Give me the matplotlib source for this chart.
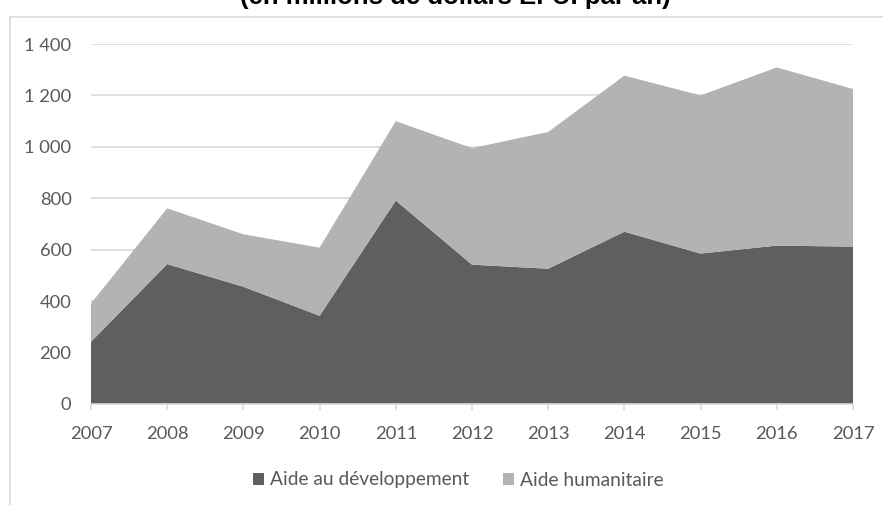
import matplotlib.pyplot as plt
from matplotlib.patches import Rectangle

years = [2007, 2008, 2009, 2010, 2011, 2012, 2013, 2014, 2015, 2016, 2017]
developpement = [242, 544, 456, 343, 791, 542, 526, 670, 585, 616, 612]
humanitaire = [149, 217, 204, 265, 309, 453, 532, 607, 615, 693, 613]
yticks = [0, 200, 400, 600, 800, 1000, 1200, 1400]
ylabels = ["0", "200", "400", "600", "800", "1 000", "1 200", "1 400"]

dark = "#5f5f5f"
light = "#b3b3b3"
grid = "#d9d9d9"
textc = "#595959"

plt.rcParams['font.family'] = ['Lato', 'DejaVu Sans']

fig = plt.figure(figsize=(8.83, 5.05), dpi=100)
W, H = 883, 505

# chart frame, its top edge cuts through the title
fig.patches.append(Rectangle((10 / W, -0.01), 1.0, 1 - 17 / H + 0.01,
                             transform=fig.transFigure, fill=False,
                             edgecolor=grid, linewidth=1.2))
fig.text(455 / W, 1 - 4 / H, "(en millions de dollars É.-U. par an)",
         ha='center', va='baseline', fontsize=18.5, fontweight='bold',
         family=['Liberation Sans', 'DejaVu Sans'], color="#000000")

ax = fig.add_axes([91 / W, 1 - 404 / H, (853 - 91) / W, (404 - 44) / H])
ax.stackplot(years, developpement, humanitaire, colors=[dark, light],
             labels=["Aide au développement", "Aide humanitaire"],
             linewidth=0)
ax.set_xlim(2007, 2017)
ax.set_ylim(0, 1400)
ax.set_xticks(years)
ax.set_yticks(yticks)
ax.set_yticklabels(ylabels)
ax.grid(axis='y', color=grid, linewidth=1.2)
ax.set_axisbelow(True)
for side in ['left', 'right', 'top']:
    ax.spines[side].set_visible(False)
ax.spines['bottom'].set_color(grid)
ax.spines['bottom'].set_linewidth(1.2)
ax.tick_params(axis='y', length=0, pad=14, labelsize=13.2, labelcolor=textc)
ax.tick_params(axis='x', length=4.5, color=grid, width=1.2, direction='out',
               pad=11.5, labelsize=13.2, labelcolor=textc)

ax.legend(loc='center', bbox_to_anchor=(458 / W, 1 - 480 / H),
          bbox_transform=fig.transFigure, ncol=2, frameon=False,
          fontsize=13.8, labelcolor=textc, handlelength=0.6, handleheight=0.6,
          handletextpad=0.3, columnspacing=1.75)

fig.savefig("out.png", dpi=100)
